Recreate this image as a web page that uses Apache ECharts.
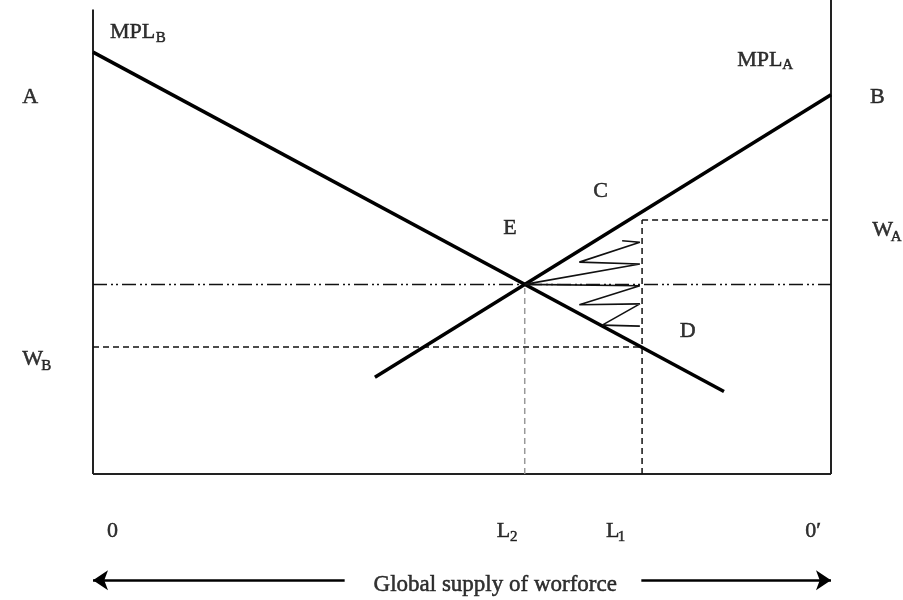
<!DOCTYPE html>
<html>
<head>
<meta charset="utf-8">
<script src="https://cdn.jsdelivr.net/npm/echarts@6/dist/echarts.min.js"></script>
<style>
  html, body { margin: 0; padding: 0; background: #fff; }
  #chart { width: 903px; height: 600px; }
</style>
</head>
<body>
<div id="chart"></div>
<script>
// x = global workforce (0 .. 0'), y = wage / marginal product
const frameLeft = [[0, 0], [0, 98]];
const frameRight = [[100, 0], [100, 100]];
const frameBottom = [[0, 0], [100, 0]];
const mplB = [[0, 89], [85.5, 17.4]];
const mplA = [[38.2, 20.4], [100, 80]];
const eqPoint = [58.5, 40];
const L1 = 74.4;
const wageA = 53.6;
const wageB = 26.8;
const zigzag = [[71.7, 49.2], [74.1, 48.9], [65.9, 44.7], [74.1, 44.3], [58.5, 40],
  [74.1, 39.7], [65.9, 35.7], [74.1, 35.9], [69.0, 31.4], [74.1, 31.2]];
const arrowY = -22.4;
const arrowLeft = [[34.1, arrowY], [0, arrowY]];
const arrowRight = [[74.3, arrowY], [100, arrowY]];

// text labels: [x, y, text] (left edge, middle)
const labels = [
  [-9.6, 79.4, 'A'],
  [2.3, 93.3, 'MPL'],
  [87.3, 87.2, 'MPL'],
  [105.3, 79.4, 'B'],
  [105.6, 51.4, 'W'],
  [67.8, 59.7, 'C'],
  [55.6, 51.9, 'E'],
  [79.5, 30.2, 'D'],
  [-9.6, 24.2, 'W'],
  [1.9, -12.1, '0'],
  [54.7, -12.1, 'L'],
  [69.5, -12.1, 'L'],
  [96.5, -12.1, '0\u2032']
];
// subscripts: [x, y, text]
const subLabels = [
  [8.5, 92.0, 'B'],
  [93.4, 86.2, 'A'],
  [108.1, 50.0, 'A'],
  [-7.0, 22.8, 'B'],
  [56.5, -13.4, '2'],
  [71.1, -13.4, '1']
];
const axisTitle = [54.5, -23.4, 'Global supply of worforce'];

const serif = '"Liberation Serif", "Times New Roman", serif';

function seg(data, width, color, type) {
  return {
    type: 'line', data: data, symbol: 'none', clip: false, silent: true,
    lineStyle: { width: width, color: color, type: type || 'solid' }
  };
}

function textSeries(list, size) {
  return {
    type: 'scatter', symbolSize: 0, clip: false, silent: true,
    data: list.map(function (l) {
      return { value: [l[0], l[1]], label: { formatter: l[2] } };
    }),
    label: {
      show: true, position: 'right', distance: 0, color: '#000',
      fontFamily: serif, fontSize: size,
      textBorderColor: '#000', textBorderWidth: 0.5
    }
  };
}

const series = [
  seg(frameLeft, 2, '#222'),
  seg(frameRight, 2, '#222'),
  seg(frameBottom, 2, '#222'),
  seg([[0, eqPoint[1]], [100, eqPoint[1]]], 1.5, '#111', [14, 4, 2, 3, 2, 4]),
  seg([[0, wageB], [L1, wageB]], 1.5, '#111', [6, 4]),
  seg([[L1, wageA], [100, wageA]], 1.5, '#111', [6, 4]),
  seg([[L1, 0], [L1, wageA]], 1.5, '#111', [6, 4]),
  seg([[eqPoint[0], 0], eqPoint], 1.5, '#999', [6, 4]),
  seg(mplB, 3.5, '#000'),
  seg(mplA, 3.5, '#000'),
  seg(zigzag, 1.6, '#111'),
  {
    type: 'lines', coordinateSystem: 'cartesian2d', clip: false, silent: true,
    symbol: ['none', 'arrow'], symbolSize: [13, 15],
    lineStyle: { width: 2.5, color: '#000', opacity: 1 },
    data: [{ coords: arrowLeft }, { coords: arrowRight }]
  },
  textSeries(labels, 22),
  textSeries(subLabels, 15),
  {
    type: 'scatter', symbolSize: 0, clip: false, silent: true,
    data: [{ value: [axisTitle[0], axisTitle[1]] }],
    label: {
      show: true, position: 'inside', formatter: axisTitle[2], color: '#000',
      fontFamily: serif, fontSize: 23,
      textBorderColor: '#000', textBorderWidth: 0.5
    }
  }
];

const chart = echarts.init(document.getElementById('chart'), null, { renderer: 'canvas' });
chart.setOption({
  animation: false,
  backgroundColor: '#fff',
  grid: { left: 93, right: 72, top: 0, bottom: 126 },
  xAxis: { type: 'value', min: 0, max: 100, show: false },
  yAxis: { type: 'value', min: 0, max: 100, show: false },
  series: series
});
</script>
</body>
</html>
